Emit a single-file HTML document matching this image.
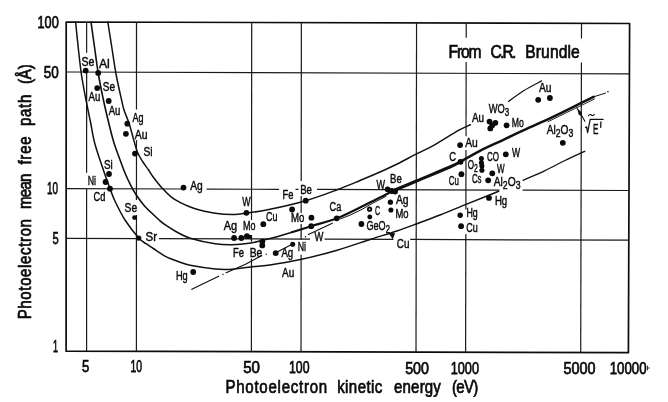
<!DOCTYPE html>
<html><head><meta charset="utf-8"><title>Photoelectron mean free path</title>
<style>
html,body{margin:0;padding:0;background:#fff;}
body{width:668px;height:402px;overflow:hidden;font-family:"Liberation Sans",sans-serif;}
svg text{font-family:"Liberation Sans",sans-serif;}
svg{filter:grayscale(1);}
</style></head><body>
<svg width="668" height="402" viewBox="0 0 668 402" style="display:block" font-family="'Liberation Sans', sans-serif" fill="#0a0a0a">
<path d="M66.20,22.00 L629.60,23.50 L628.40,352.70 L66.10,351.20 Z" fill="none" stroke="#0c0c0c" stroke-width="1.70" stroke-linecap="round" stroke-linejoin="round" />
<line x1="66.00" y1="72.00" x2="629.00" y2="73.90" stroke="#1a1a1a" stroke-width="1.20" />
<line x1="66.00" y1="188.60" x2="185.00" y2="189.00" stroke="#1a1a1a" stroke-width="1.20" />
<line x1="206.60" y1="189.07" x2="279.00" y2="189.32" stroke="#1a1a1a" stroke-width="1.20" />
<line x1="295.50" y1="189.37" x2="298.50" y2="189.38" stroke="#1a1a1a" stroke-width="1.20" />
<line x1="317.00" y1="189.45" x2="499.40" y2="190.06" stroke="#1a1a1a" stroke-width="1.20" />
<line x1="522.60" y1="190.14" x2="629.00" y2="190.50" stroke="#1a1a1a" stroke-width="1.20" />
<line x1="66.00" y1="238.30" x2="140.00" y2="238.55" stroke="#1a1a1a" stroke-width="1.20" />
<line x1="159.00" y1="238.61" x2="310.00" y2="239.12" stroke="#1a1a1a" stroke-width="1.20" />
<line x1="324.50" y1="239.17" x2="393.50" y2="239.41" stroke="#1a1a1a" stroke-width="1.20" />
<line x1="410.20" y1="239.46" x2="629.00" y2="240.20" stroke="#1a1a1a" stroke-width="1.20" />
<line x1="86.63" y1="22.00" x2="86.63" y2="52.70" stroke="#1a1a1a" stroke-width="1.20" />
<line x1="86.63" y1="70.00" x2="86.62" y2="172.70" stroke="#1a1a1a" stroke-width="1.20" />
<line x1="86.62" y1="188.70" x2="86.60" y2="351.30" stroke="#1a1a1a" stroke-width="1.20" />
<line x1="136.51" y1="22.00" x2="136.48" y2="109.40" stroke="#1a1a1a" stroke-width="1.20" />
<line x1="136.47" y1="140.00" x2="136.45" y2="200.00" stroke="#1a1a1a" stroke-width="1.20" />
<line x1="136.45" y1="215.00" x2="136.40" y2="351.50" stroke="#1a1a1a" stroke-width="1.20" />
<line x1="251.70" y1="22.50" x2="251.52" y2="220.00" stroke="#1a1a1a" stroke-width="1.20" />
<line x1="251.51" y1="235.00" x2="251.50" y2="241.80" stroke="#1a1a1a" stroke-width="1.20" />
<line x1="251.48" y1="258.50" x2="251.40" y2="351.80" stroke="#1a1a1a" stroke-width="1.20" />
<line x1="301.37" y1="22.60" x2="301.19" y2="181.00" stroke="#1a1a1a" stroke-width="1.20" />
<line x1="301.18" y1="196.00" x2="301.16" y2="213.00" stroke="#1a1a1a" stroke-width="1.20" />
<line x1="301.15" y1="224.00" x2="301.13" y2="239.70" stroke="#1a1a1a" stroke-width="1.20" />
<line x1="301.11" y1="254.70" x2="301.00" y2="352.00" stroke="#1a1a1a" stroke-width="1.20" />
<line x1="416.56" y1="23.00" x2="416.00" y2="352.20" stroke="#1a1a1a" stroke-width="1.20" />
<line x1="466.24" y1="23.00" x2="466.21" y2="37.70" stroke="#1a1a1a" stroke-width="1.20" />
<line x1="466.16" y1="62.00" x2="466.02" y2="136.20" stroke="#1a1a1a" stroke-width="1.20" />
<line x1="465.99" y1="150.00" x2="465.88" y2="209.50" stroke="#1a1a1a" stroke-width="1.20" />
<line x1="465.83" y1="233.90" x2="465.60" y2="352.40" stroke="#1a1a1a" stroke-width="1.20" />
<line x1="581.52" y1="23.30" x2="581.48" y2="38.40" stroke="#1a1a1a" stroke-width="1.20" />
<line x1="581.42" y1="62.40" x2="580.70" y2="352.60" stroke="#1a1a1a" stroke-width="1.20" />
<path d="M107.80,22.00 C108.43,26.00 110.20,37.17 111.60,46.00 C113.00,54.83 114.53,66.00 116.20,75.00 C117.87,84.00 120.30,94.17 121.60,100.00 C122.90,105.83 122.73,106.05 124.00,110.00 C125.27,113.95 127.58,118.72 129.20,123.70 C130.82,128.68 132.30,135.10 133.70,139.90 C135.10,144.70 136.12,148.90 137.60,152.50 C139.08,156.10 140.77,158.58 142.60,161.50 C144.43,164.42 146.87,167.47 148.60,170.00 C150.33,172.53 150.72,173.65 153.00,176.70 C155.28,179.75 159.18,184.87 162.30,188.30 C165.42,191.73 168.58,194.87 171.70,197.30 C174.82,199.73 177.90,201.28 181.00,202.90 C184.10,204.52 187.18,205.82 190.30,207.00 C193.42,208.18 195.53,208.95 199.70,210.00 C203.87,211.05 209.92,212.55 215.30,213.30 C220.68,214.05 226.82,214.52 232.00,214.50 C237.18,214.48 240.07,214.07 246.40,213.20 C252.73,212.33 260.12,211.38 270.00,209.30 C279.88,207.22 294.52,203.95 305.70,200.70 C316.88,197.45 328.05,193.17 337.10,189.80 C346.15,186.43 352.85,183.47 360.00,180.50 C367.15,177.53 374.15,174.58 380.00,172.00 C385.85,169.42 388.93,168.05 395.10,165.00 C401.27,161.95 410.57,156.98 417.00,153.70 C423.43,150.42 426.72,149.22 433.70,145.30 C440.68,141.38 452.78,133.62 458.90,130.20 C465.02,126.78 468.48,125.70 470.40,124.80" fill="none" stroke="#111" stroke-width="1.50" stroke-linecap="round" stroke-linejoin="round" />
<path d="M91.00,22.00 C91.58,26.17 93.30,38.50 94.50,47.00 C95.70,55.50 96.78,64.50 98.20,73.00 C99.62,81.50 101.28,89.83 103.00,98.00 C104.72,106.17 106.72,114.67 108.50,122.00 C110.28,129.33 111.95,136.17 113.70,142.00 C115.45,147.83 117.12,151.83 119.00,157.00 C120.88,162.17 123.07,168.32 125.00,173.00 C126.93,177.68 128.80,181.57 130.60,185.10 C132.40,188.63 133.62,190.90 135.80,194.20 C137.98,197.50 140.83,201.55 143.70,204.90 C146.57,208.25 150.52,211.87 153.00,214.30 C155.48,216.73 156.60,217.77 158.60,219.50 C160.60,221.23 161.98,222.62 165.00,224.70 C168.02,226.78 172.50,229.75 176.70,232.00 C180.90,234.25 183.77,236.23 190.20,238.20 C196.63,240.17 208.33,242.70 215.30,243.80 C222.27,244.90 226.40,244.88 232.00,244.80 C237.60,244.72 242.57,244.33 248.90,243.30 C255.23,242.27 262.85,240.45 270.00,238.60 C277.15,236.75 288.17,233.27 291.80,232.20" fill="none" stroke="#111" stroke-width="1.60" stroke-linecap="round" stroke-linejoin="round" />
<path d="M291.80,232.20 C295.03,231.20 303.70,228.52 311.20,226.20 C318.70,223.88 328.67,221.42 336.80,218.30 C344.93,215.18 353.63,210.57 360.00,207.50 C366.37,204.43 371.33,201.72 375.00,199.90 C378.67,198.08 379.17,198.03 382.00,196.60 C384.83,195.17 390.33,192.18 392.00,191.30" fill="none" stroke="#111" stroke-width="2.20" stroke-linecap="round" stroke-linejoin="round" />
<path d="M392.00,191.30 C396.17,189.55 407.33,184.85 417.00,180.80 C426.67,176.75 442.75,170.18 450.00,167.00 C457.25,163.82 458.75,162.58 460.50,161.70" fill="none" stroke="#111" stroke-width="3.10" stroke-linecap="round" stroke-linejoin="round" />
<path d="M460.50,161.70 C463.75,159.88 473.02,154.37 480.00,150.80 C486.98,147.23 494.90,143.83 502.40,140.30 C509.90,136.77 516.57,133.50 525.00,129.60 C533.43,125.70 543.70,121.30 553.00,116.90 C562.30,112.50 574.03,106.55 580.80,103.20 C587.57,99.85 591.47,97.87 593.60,96.80" fill="none" stroke="#111" stroke-width="2.50" stroke-linecap="round" stroke-linejoin="round" />
<path d="M593.6,96.8 L605.6,93.1" fill="none" stroke="#111" stroke-width="1.00" stroke-linecap="round" stroke-linejoin="round" />
<circle cx="607.90" cy="91.80" r="0.80" fill="#0a0a0a"/>
<path d="M548,121.7 L594.5,99.0" fill="none" stroke="#111" stroke-width="0.90" stroke-linecap="round" stroke-linejoin="round" />
<path d="M340.50,218.88 L350.00,215.16 L362.00,209.39 L372.00,203.52 L386.00,196.38" fill="none" stroke="#111" stroke-width="1.00" stroke-linecap="round" stroke-linejoin="round" />
<path d="M75.60,22.00 C76.08,26.67 77.52,41.17 78.50,50.00 C79.48,58.83 80.25,66.67 81.50,75.00 C82.75,83.33 84.50,92.17 86.00,100.00 C87.50,107.83 89.10,115.00 90.50,122.00 C91.90,129.00 92.65,135.17 94.40,142.00 C96.15,148.83 98.40,155.22 101.00,163.00 C103.60,170.78 107.60,182.20 110.00,188.70 C112.40,195.20 112.90,196.78 115.40,202.00 C117.90,207.22 121.10,213.98 125.00,220.00 C128.90,226.02 135.30,234.15 138.80,238.10 C142.30,242.05 143.58,241.97 146.00,243.70 C148.42,245.43 150.22,246.48 153.30,248.50 C156.38,250.52 161.38,254.00 164.50,255.80 C167.62,257.60 169.42,258.23 172.00,259.30 C174.58,260.37 176.97,261.20 180.00,262.20 C183.03,263.20 184.32,264.17 190.20,265.30 C196.08,266.43 208.33,268.35 215.30,269.00 C222.27,269.65 226.40,269.50 232.00,269.20 C237.60,268.90 242.57,267.90 248.90,267.20 C255.23,266.50 261.40,266.27 270.00,265.00 C278.60,263.73 289.32,262.07 300.50,259.60 C311.68,257.13 325.40,253.58 337.10,250.20 C348.80,246.82 360.75,242.50 370.70,239.30 C380.65,236.10 389.08,233.60 396.80,231.00 C404.52,228.40 409.80,226.37 417.00,223.70 C424.20,221.03 431.83,218.22 440.00,215.00 C448.17,211.78 458.17,207.57 466.00,204.40 C473.83,201.23 481.55,198.20 487.00,196.00 C492.45,193.80 496.75,192.00 498.70,191.20" fill="none" stroke="#111" stroke-width="1.50" stroke-linecap="round" stroke-linejoin="round" />
<path d="M191.8,289.3 L218.7,276.2" fill="none" stroke="#111" stroke-width="1.20" stroke-linecap="round" stroke-linejoin="round" />
<circle cx="222.90" cy="274.40" r="0.70" fill="#0a0a0a"/>
<path d="M226.2,272.7 L245.5,264.2 L261.5,255.6" fill="none" stroke="#111" stroke-width="1.20" stroke-linecap="round" stroke-linejoin="round" />
<circle cx="266.20" cy="254.20" r="0.70" fill="#0a0a0a"/>
<path d="M275.7,252.7 L292.7,244" fill="none" stroke="#111" stroke-width="1.20" stroke-linecap="round" stroke-linejoin="round" />
<circle cx="305.40" cy="236.70" r="0.70" fill="#0a0a0a"/>
<path d="M308.4,234.5 L332.3,223.2" fill="none" stroke="#111" stroke-width="1.20" stroke-linecap="round" stroke-linejoin="round" />
<path d="M508.50,101.50 C511.08,99.67 518.50,93.93 524.00,90.50 C529.50,87.07 538.58,82.50 541.50,80.90" fill="none" stroke="#111" stroke-width="1.20" stroke-linecap="round" stroke-linejoin="round" />
<path d="M523.00,180.30 C526.67,178.68 538.00,173.90 545.00,170.60 C552.00,167.30 558.37,163.72 565.00,160.50 C571.63,157.28 581.50,152.83 584.80,151.30" fill="none" stroke="#111" stroke-width="1.30" stroke-linecap="round" stroke-linejoin="round" />
<path d="M584.9,121.3 L580.6,113.8" fill="none" stroke="#111" stroke-width="1.10" stroke-linecap="round" stroke-linejoin="round" />
<path d="M577.3,108.6 L581.9,112.6 L581.6,116.6 L578.6,114.6 Z" fill="#111"/>
<path d="M578.2,110 Q576.8,106.6 574.6,105.6" fill="none" stroke="#111" stroke-width="1.00" stroke-linecap="round" stroke-linejoin="round" />
<circle cx="85.70" cy="70.60" r="2.90" fill="#0a0a0a"/>
<circle cx="98.20" cy="72.90" r="2.90" fill="#0a0a0a"/>
<circle cx="97.20" cy="88.10" r="2.90" fill="#0a0a0a"/>
<circle cx="108.70" cy="101.00" r="2.90" fill="#0a0a0a"/>
<circle cx="127.30" cy="123.70" r="2.90" fill="#0a0a0a"/>
<circle cx="125.90" cy="133.80" r="2.90" fill="#0a0a0a"/>
<circle cx="135.00" cy="153.60" r="2.90" fill="#0a0a0a"/>
<circle cx="109.00" cy="174.00" r="2.90" fill="#0a0a0a"/>
<circle cx="105.60" cy="182.00" r="2.90" fill="#0a0a0a"/>
<circle cx="110.00" cy="188.70" r="2.90" fill="#0a0a0a"/>
<circle cx="134.60" cy="217.60" r="2.45" fill="#0a0a0a"/>
<circle cx="138.80" cy="238.10" r="2.55" fill="#0a0a0a"/>
<circle cx="183.50" cy="187.60" r="2.90" fill="#0a0a0a"/>
<circle cx="246.40" cy="212.80" r="2.90" fill="#0a0a0a"/>
<circle cx="263.30" cy="224.20" r="2.90" fill="#0a0a0a"/>
<circle cx="234.10" cy="238.00" r="2.90" fill="#0a0a0a"/>
<circle cx="241.30" cy="238.00" r="2.90" fill="#0a0a0a"/>
<circle cx="246.90" cy="236.20" r="2.90" fill="#0a0a0a"/>
<circle cx="249.70" cy="237.00" r="2.15" fill="#0a0a0a"/>
<circle cx="262.30" cy="241.60" r="2.90" fill="#0a0a0a"/>
<circle cx="262.30" cy="245.40" r="2.90" fill="#0a0a0a"/>
<circle cx="193.20" cy="272.00" r="2.90" fill="#0a0a0a"/>
<circle cx="275.70" cy="253.20" r="2.90" fill="#0a0a0a"/>
<circle cx="292.70" cy="244.20" r="2.55" fill="#0a0a0a"/>
<circle cx="305.70" cy="200.70" r="2.90" fill="#0a0a0a"/>
<circle cx="292.10" cy="209.50" r="2.90" fill="#0a0a0a"/>
<circle cx="311.40" cy="217.70" r="2.90" fill="#0a0a0a"/>
<circle cx="311.20" cy="226.20" r="2.90" fill="#0a0a0a"/>
<circle cx="336.80" cy="218.30" r="2.90" fill="#0a0a0a"/>
<circle cx="369.80" cy="217.00" r="2.45" fill="#0a0a0a"/>
<circle cx="361.40" cy="224.00" r="2.90" fill="#0a0a0a"/>
<circle cx="387.60" cy="189.30" r="2.90" fill="#0a0a0a"/>
<circle cx="391.80" cy="191.00" r="2.90" fill="#0a0a0a"/>
<circle cx="395.10" cy="191.50" r="2.90" fill="#0a0a0a"/>
<circle cx="390.40" cy="202.20" r="2.65" fill="#0a0a0a"/>
<circle cx="390.90" cy="210.00" r="2.55" fill="#0a0a0a"/>
<circle cx="461.40" cy="174.20" r="2.90" fill="#0a0a0a"/>
<circle cx="460.20" cy="215.20" r="2.75" fill="#0a0a0a"/>
<circle cx="461.10" cy="226.20" r="2.90" fill="#0a0a0a"/>
<circle cx="460.10" cy="145.10" r="2.90" fill="#0a0a0a"/>
<circle cx="460.50" cy="161.80" r="2.90" fill="#0a0a0a"/>
<circle cx="481.40" cy="158.50" r="2.55" fill="#0a0a0a"/>
<circle cx="481.40" cy="162.70" r="2.55" fill="#0a0a0a"/>
<circle cx="481.90" cy="166.00" r="2.55" fill="#0a0a0a"/>
<circle cx="481.90" cy="170.20" r="2.55" fill="#0a0a0a"/>
<circle cx="505.80" cy="154.30" r="2.90" fill="#0a0a0a"/>
<circle cx="492.30" cy="173.30" r="2.90" fill="#0a0a0a"/>
<circle cx="488.20" cy="180.30" r="2.90" fill="#0a0a0a"/>
<circle cx="489.00" cy="197.90" r="2.90" fill="#0a0a0a"/>
<circle cx="489.50" cy="121.60" r="2.90" fill="#0a0a0a"/>
<circle cx="495.40" cy="122.80" r="2.90" fill="#0a0a0a"/>
<circle cx="490.30" cy="128.40" r="2.90" fill="#0a0a0a"/>
<circle cx="492.30" cy="125.30" r="2.90" fill="#0a0a0a"/>
<circle cx="506.60" cy="125.30" r="2.90" fill="#0a0a0a"/>
<circle cx="538.20" cy="99.80" r="2.90" fill="#0a0a0a"/>
<circle cx="549.90" cy="98.00" r="2.90" fill="#0a0a0a"/>
<circle cx="562.80" cy="142.80" r="2.90" fill="#0a0a0a"/>
<circle cx="369.6" cy="209.2" r="1.7" fill="#fff" stroke="#0a0a0a" stroke-width="1.8"/>
<path d="M389.3,233.6 L394.6,233.4 L392.6,238.6 Z" fill="#0a0a0a" stroke="#0a0a0a" stroke-width="0.8" stroke-linejoin="round"/>
<text x="81.50" y="65.50" font-size="12.60" textLength="12.90" lengthAdjust="spacingAndGlyphs" font-weight="normal" stroke="#0a0a0a" stroke-width="0.45" >Se</text>
<text x="98.90" y="68.40" font-size="12.60" textLength="10.90" lengthAdjust="spacingAndGlyphs" font-weight="normal" stroke="#0a0a0a" stroke-width="0.45" >Al</text>
<text x="102.80" y="91.00" font-size="12.60" textLength="12.20" lengthAdjust="spacingAndGlyphs" font-weight="normal" stroke="#0a0a0a" stroke-width="0.45" >Se</text>
<text x="88.50" y="101.30" font-size="12.60" textLength="11.80" lengthAdjust="spacingAndGlyphs" font-weight="normal" stroke="#0a0a0a" stroke-width="0.45" >Au</text>
<text x="108.70" y="115.00" font-size="12.60" textLength="11.70" lengthAdjust="spacingAndGlyphs" font-weight="normal" stroke="#0a0a0a" stroke-width="0.45" >Au</text>
<text x="132.50" y="121.60" font-size="12.60" textLength="11.00" lengthAdjust="spacingAndGlyphs" font-weight="normal" stroke="#0a0a0a" stroke-width="0.45" >Ag</text>
<text x="134.70" y="138.80" font-size="12.60" textLength="12.80" lengthAdjust="spacingAndGlyphs" font-weight="normal" stroke="#0a0a0a" stroke-width="0.45" >Au</text>
<text x="143.50" y="155.50" font-size="12.60" textLength="9.10" lengthAdjust="spacingAndGlyphs" font-weight="normal" stroke="#0a0a0a" stroke-width="0.45" >Si</text>
<text x="104.00" y="169.40" font-size="12.60" textLength="8.80" lengthAdjust="spacingAndGlyphs" font-weight="normal" stroke="#0a0a0a" stroke-width="0.45" >Si</text>
<text x="87.70" y="185.30" font-size="12.60" textLength="8.30" lengthAdjust="spacingAndGlyphs" font-weight="normal" stroke="#0a0a0a" stroke-width="0.45" >Ni</text>
<text x="93.50" y="201.00" font-size="12.60" textLength="11.80" lengthAdjust="spacingAndGlyphs" font-weight="normal" stroke="#0a0a0a" stroke-width="0.45" >Cd</text>
<text x="124.60" y="211.80" font-size="12.60" textLength="12.60" lengthAdjust="spacingAndGlyphs" font-weight="normal" stroke="#0a0a0a" stroke-width="0.45" >Se</text>
<text x="145.50" y="240.60" font-size="12.60" textLength="11.50" lengthAdjust="spacingAndGlyphs" font-weight="normal" stroke="#0a0a0a" stroke-width="0.45" >Sr</text>
<text x="190.20" y="189.80" font-size="12.60" textLength="12.50" lengthAdjust="spacingAndGlyphs" font-weight="normal" stroke="#0a0a0a" stroke-width="0.45" >Ag</text>
<text x="242.20" y="205.80" font-size="12.60" textLength="8.30" lengthAdjust="spacingAndGlyphs" font-weight="normal" stroke="#0a0a0a" stroke-width="0.45" >W</text>
<text x="266.10" y="221.20" font-size="12.60" textLength="11.40" lengthAdjust="spacingAndGlyphs" font-weight="normal" stroke="#0a0a0a" stroke-width="0.45" >Cu</text>
<text x="223.70" y="229.60" font-size="12.60" textLength="13.40" lengthAdjust="spacingAndGlyphs" font-weight="normal" stroke="#0a0a0a" stroke-width="0.45" >Ag</text>
<text x="243.00" y="229.60" font-size="12.60" textLength="12.50" lengthAdjust="spacingAndGlyphs" font-weight="normal" stroke="#0a0a0a" stroke-width="0.45" >Mo</text>
<text x="233.00" y="256.50" font-size="12.60" textLength="10.90" lengthAdjust="spacingAndGlyphs" font-weight="normal" stroke="#0a0a0a" stroke-width="0.45" >Fe</text>
<text x="249.70" y="256.50" font-size="12.60" textLength="12.60" lengthAdjust="spacingAndGlyphs" font-weight="normal" stroke="#0a0a0a" stroke-width="0.45" >Be</text>
<text x="175.90" y="280.40" font-size="12.60" textLength="11.80" lengthAdjust="spacingAndGlyphs" font-weight="normal" stroke="#0a0a0a" stroke-width="0.45" >Hg</text>
<text x="282.60" y="199.40" font-size="12.60" textLength="10.90" lengthAdjust="spacingAndGlyphs" font-weight="normal" stroke="#0a0a0a" stroke-width="0.45" >Fe</text>
<text x="300.20" y="194.40" font-size="12.60" textLength="11.80" lengthAdjust="spacingAndGlyphs" font-weight="normal" stroke="#0a0a0a" stroke-width="0.45" >Be</text>
<text x="291.00" y="222.00" font-size="12.60" textLength="13.40" lengthAdjust="spacingAndGlyphs" font-weight="normal" stroke="#0a0a0a" stroke-width="0.45" >Mo</text>
<text x="329.60" y="211.10" font-size="12.60" textLength="11.70" lengthAdjust="spacingAndGlyphs" font-weight="normal" stroke="#0a0a0a" stroke-width="0.45" >Ca</text>
<text x="376.50" y="188.50" font-size="12.60" textLength="8.50" lengthAdjust="spacingAndGlyphs" font-weight="normal" stroke="#0a0a0a" stroke-width="0.45" >W</text>
<text x="374.90" y="214.50" font-size="12.60" textLength="5.10" lengthAdjust="spacingAndGlyphs" font-weight="normal" stroke="#0a0a0a" stroke-width="0.45" >C</text>
<text x="281.40" y="256.90" font-size="12.60" textLength="11.80" lengthAdjust="spacingAndGlyphs" font-weight="normal" stroke="#0a0a0a" stroke-width="0.45" >Ag</text>
<text x="297.70" y="251.00" font-size="12.60" textLength="8.30" lengthAdjust="spacingAndGlyphs" font-weight="normal" stroke="#0a0a0a" stroke-width="0.45" >Ni</text>
<text x="314.50" y="241.00" font-size="12.60" textLength="8.90" lengthAdjust="spacingAndGlyphs" font-weight="normal" stroke="#0a0a0a" stroke-width="0.45" >W</text>
<text x="282.10" y="277.30" font-size="12.60" textLength="12.20" lengthAdjust="spacingAndGlyphs" font-weight="normal" stroke="#0a0a0a" stroke-width="0.45" >Au</text>
<text x="390.10" y="183.00" font-size="12.60" textLength="11.70" lengthAdjust="spacingAndGlyphs" font-weight="normal" stroke="#0a0a0a" stroke-width="0.45" >Be</text>
<text x="396.00" y="204.40" font-size="12.60" textLength="12.60" lengthAdjust="spacingAndGlyphs" font-weight="normal" stroke="#0a0a0a" stroke-width="0.45" >Ag</text>
<text x="395.50" y="217.80" font-size="12.60" textLength="13.10" lengthAdjust="spacingAndGlyphs" font-weight="normal" stroke="#0a0a0a" stroke-width="0.45" >Mo</text>
<text x="448.80" y="185.10" font-size="12.60" textLength="10.10" lengthAdjust="spacingAndGlyphs" font-weight="normal" stroke="#0a0a0a" stroke-width="0.45" >Cu</text>
<text x="472.00" y="183.40" font-size="12.60" textLength="9.50" lengthAdjust="spacingAndGlyphs" font-weight="normal" stroke="#0a0a0a" stroke-width="0.45" >Cs</text>
<text x="466.40" y="217.00" font-size="12.60" textLength="11.30" lengthAdjust="spacingAndGlyphs" font-weight="normal" stroke="#0a0a0a" stroke-width="0.45" >Hg</text>
<text x="466.20" y="232.40" font-size="12.60" textLength="11.50" lengthAdjust="spacingAndGlyphs" font-weight="normal" stroke="#0a0a0a" stroke-width="0.45" >Cu</text>
<text x="396.80" y="247.60" font-size="12.60" textLength="12.60" lengthAdjust="spacingAndGlyphs" font-weight="normal" stroke="#0a0a0a" stroke-width="0.45" >Cu</text>
<text x="471.90" y="122.00" font-size="12.60" textLength="12.10" lengthAdjust="spacingAndGlyphs" font-weight="normal" stroke="#0a0a0a" stroke-width="0.45" >Au</text>
<text x="511.80" y="126.70" font-size="12.60" textLength="12.10" lengthAdjust="spacingAndGlyphs" font-weight="normal" stroke="#0a0a0a" stroke-width="0.45" >Mo</text>
<text x="539.00" y="91.80" font-size="12.60" textLength="12.50" lengthAdjust="spacingAndGlyphs" font-weight="normal" stroke="#0a0a0a" stroke-width="0.45" >Au</text>
<text x="465.20" y="147.10" font-size="12.60" textLength="12.60" lengthAdjust="spacingAndGlyphs" font-weight="normal" stroke="#0a0a0a" stroke-width="0.45" >Au</text>
<text x="449.20" y="161.00" font-size="12.60" textLength="6.80" lengthAdjust="spacingAndGlyphs" font-weight="normal" stroke="#0a0a0a" stroke-width="0.45" >C</text>
<text x="487.00" y="161.00" font-size="12.60" textLength="12.00" lengthAdjust="spacingAndGlyphs" font-weight="normal" stroke="#0a0a0a" stroke-width="0.45" >CO</text>
<text x="512.10" y="156.50" font-size="12.60" textLength="8.10" lengthAdjust="spacingAndGlyphs" font-weight="normal" stroke="#0a0a0a" stroke-width="0.45" >W</text>
<text x="497.00" y="172.80" font-size="12.60" textLength="7.60" lengthAdjust="spacingAndGlyphs" font-weight="normal" stroke="#0a0a0a" stroke-width="0.45" >W</text>
<text x="494.90" y="205.40" font-size="12.60" textLength="12.30" lengthAdjust="spacingAndGlyphs" font-weight="normal" stroke="#0a0a0a" stroke-width="0.45" >Hg</text>
<text x="366.50" y="229.60" font-size="12.60" textLength="23.50" lengthAdjust="spacingAndGlyphs" font-weight="normal" stroke="#0a0a0a" stroke-width="0.45" >GeO<tspan dy="3.0" font-size="10.7">2</tspan><tspan dy="-3.0" font-size="0.1">&#8203;</tspan></text>
<text x="488.70" y="113.30" font-size="12.60" textLength="20.40" lengthAdjust="spacingAndGlyphs" font-weight="normal" stroke="#0a0a0a" stroke-width="0.45" >WO<tspan dy="3.0" font-size="10.7">3</tspan><tspan dy="-3.0" font-size="0.1">&#8203;</tspan></text>
<text x="467.70" y="169.40" font-size="12.60" textLength="10.10" lengthAdjust="spacingAndGlyphs" font-weight="normal" stroke="#0a0a0a" stroke-width="0.45" >O<tspan dy="3.0" font-size="10.7">2</tspan><tspan dy="-3.0" font-size="0.1">&#8203;</tspan></text>
<text x="493.70" y="186.20" font-size="12.60" textLength="26.80" lengthAdjust="spacingAndGlyphs" font-weight="normal" stroke="#0a0a0a" stroke-width="0.45" >Al<tspan dy="3.0" font-size="10.7">2</tspan><tspan dy="-3.0" font-size="0.1">&#8203;</tspan>O<tspan dy="3.0" font-size="10.7">3</tspan><tspan dy="-3.0" font-size="0.1">&#8203;</tspan></text>
<text x="546.70" y="133.70" font-size="12.60" textLength="26.50" lengthAdjust="spacingAndGlyphs" font-weight="normal" stroke="#0a0a0a" stroke-width="0.45" >Al<tspan dy="3.0" font-size="10.7">2</tspan><tspan dy="-3.0" font-size="0.1">&#8203;</tspan>O<tspan dy="3.0" font-size="10.7">3</tspan><tspan dy="-3.0" font-size="0.1">&#8203;</tspan></text>
<path d="M585.5,127.5 L586.6,126.8 L587.6,132.6 L590.2,119.4 L603.1,119.4" fill="none" stroke="#111" stroke-width="1.25" stroke-linecap="round" stroke-linejoin="round" />
<text x="593.00" y="134.40" font-size="14.60" textLength="5.40" lengthAdjust="spacingAndGlyphs" font-weight="normal" stroke="#0a0a0a" stroke-width="0.45" >E</text>
<path d="M600.9,121.9 L600.7,127.3" fill="none" stroke="#111" stroke-width="1.30" stroke-linecap="round" stroke-linejoin="round" />
<path d="M588.5,115.8 Q590,113.6 591.4,115 T594.3,114.4" fill="none" stroke="#111" stroke-width="1.10" stroke-linecap="round" stroke-linejoin="round" />
<text x="37.50" y="28.30" font-size="17.30" textLength="21.20" lengthAdjust="spacingAndGlyphs" font-weight="normal" stroke="#0a0a0a" stroke-width="0.75" >100</text>
<text x="43.70" y="78.00" font-size="17.30" textLength="15.00" lengthAdjust="spacingAndGlyphs" font-weight="normal" stroke="#0a0a0a" stroke-width="0.75" >50</text>
<text x="47.00" y="194.30" font-size="17.30" textLength="11.00" lengthAdjust="spacingAndGlyphs" font-weight="normal" stroke="#0a0a0a" stroke-width="0.75" >10</text>
<text x="52.50" y="243.70" font-size="17.30" textLength="6.20" lengthAdjust="spacingAndGlyphs" font-weight="normal" stroke="#0a0a0a" stroke-width="0.75" >5</text>
<text x="53.00" y="352.00" font-size="17.30" textLength="5.00" lengthAdjust="spacingAndGlyphs" font-weight="normal" stroke="#0a0a0a" stroke-width="0.75" >1</text>
<text x="82.00" y="372.40" font-size="17.30" textLength="7.30" lengthAdjust="spacingAndGlyphs" font-weight="normal" stroke="#0a0a0a" stroke-width="0.75" >5</text>
<text x="130.50" y="372.40" font-size="17.30" textLength="11.50" lengthAdjust="spacingAndGlyphs" font-weight="normal" stroke="#0a0a0a" stroke-width="0.75" >10</text>
<text x="243.20" y="373.00" font-size="17.30" textLength="16.80" lengthAdjust="spacingAndGlyphs" font-weight="normal" stroke="#0a0a0a" stroke-width="0.75" >50</text>
<text x="289.00" y="373.00" font-size="17.30" textLength="20.50" lengthAdjust="spacingAndGlyphs" font-weight="normal" stroke="#0a0a0a" stroke-width="0.75" >100</text>
<text x="405.20" y="373.70" font-size="17.30" textLength="23.80" lengthAdjust="spacingAndGlyphs" font-weight="normal" stroke="#0a0a0a" stroke-width="0.75" >500</text>
<text x="450.70" y="373.70" font-size="17.30" textLength="28.30" lengthAdjust="spacingAndGlyphs" font-weight="normal" stroke="#0a0a0a" stroke-width="0.75" >1000</text>
<text x="563.50" y="373.70" font-size="17.30" textLength="32.00" lengthAdjust="spacingAndGlyphs" font-weight="normal" stroke="#0a0a0a" stroke-width="0.75" >5000</text>
<text x="609.70" y="373.70" font-size="17.30" textLength="36.80" lengthAdjust="spacingAndGlyphs" font-weight="normal" stroke="#0a0a0a" stroke-width="0.75" >10000</text>
<path d="M647.5,366 L647.5,370 M647.5,368 L649.5,368" fill="none" stroke="#111" stroke-width="0.80" stroke-linecap="round" stroke-linejoin="round" />
<text transform="translate(225.50,393.00) scale(0.860,1)" x="0" y="0" font-size="17.50" textLength="118.14" lengthAdjust="spacing" stroke="#0a0a0a" stroke-width="0.70">Photoelectron</text>
<text transform="translate(337.20,393.00) scale(0.860,1)" x="0" y="0" font-size="17.50" textLength="52.44" lengthAdjust="spacing" stroke="#0a0a0a" stroke-width="0.70">kinetic</text>
<text transform="translate(394.00,393.00) scale(0.860,1)" x="0" y="0" font-size="17.50" textLength="54.53" lengthAdjust="spacing" stroke="#0a0a0a" stroke-width="0.70">energy</text>
<text transform="translate(452.00,393.00) scale(0.860,1)" x="0" y="0" font-size="17.50" textLength="30.58" lengthAdjust="spacing" stroke="#0a0a0a" stroke-width="0.70">(eV)</text>
<g transform="translate(30.5,0) rotate(-90)">
<text transform="translate(-319.30,0.00) scale(0.860,1)" x="0" y="0" font-size="17.50" textLength="116.63" lengthAdjust="spacing" stroke="#0a0a0a" stroke-width="0.70">Photoelectron</text>
<text transform="translate(-208.90,0.00) scale(0.860,1)" x="0" y="0" font-size="17.50" textLength="41.16" lengthAdjust="spacing" stroke="#0a0a0a" stroke-width="0.70">mean</text>
<text transform="translate(-164.60,0.00) scale(0.860,1)" x="0" y="0" font-size="17.50" textLength="32.91" lengthAdjust="spacing" stroke="#0a0a0a" stroke-width="0.70">free</text>
<text transform="translate(-126.10,0.00) scale(0.860,1)" x="0" y="0" font-size="17.50" textLength="36.63" lengthAdjust="spacing" stroke="#0a0a0a" stroke-width="0.70">path</text>
<text transform="translate(-84.00,0.00) scale(0.860,1)" x="0" y="0" font-size="17.50" textLength="22.91" lengthAdjust="spacing" stroke="#0a0a0a" stroke-width="0.70">(&#197;)</text>
</g>
<text transform="translate(448.50,57.50) scale(0.860,1)" x="0" y="0" font-size="18.20" textLength="38.37" lengthAdjust="spacing" stroke="#0a0a0a" stroke-width="0.70">From</text>
<text transform="translate(490.50,57.50) scale(0.860,1)" x="0" y="0" font-size="18.20" textLength="30.12" lengthAdjust="spacing" stroke="#0a0a0a" stroke-width="0.70">C.R.</text>
<text transform="translate(525.30,57.50) scale(0.860,1)" x="0" y="0" font-size="18.20" textLength="63.26" lengthAdjust="spacing" stroke="#0a0a0a" stroke-width="0.70">Brundle</text>
</svg>
</body></html>
